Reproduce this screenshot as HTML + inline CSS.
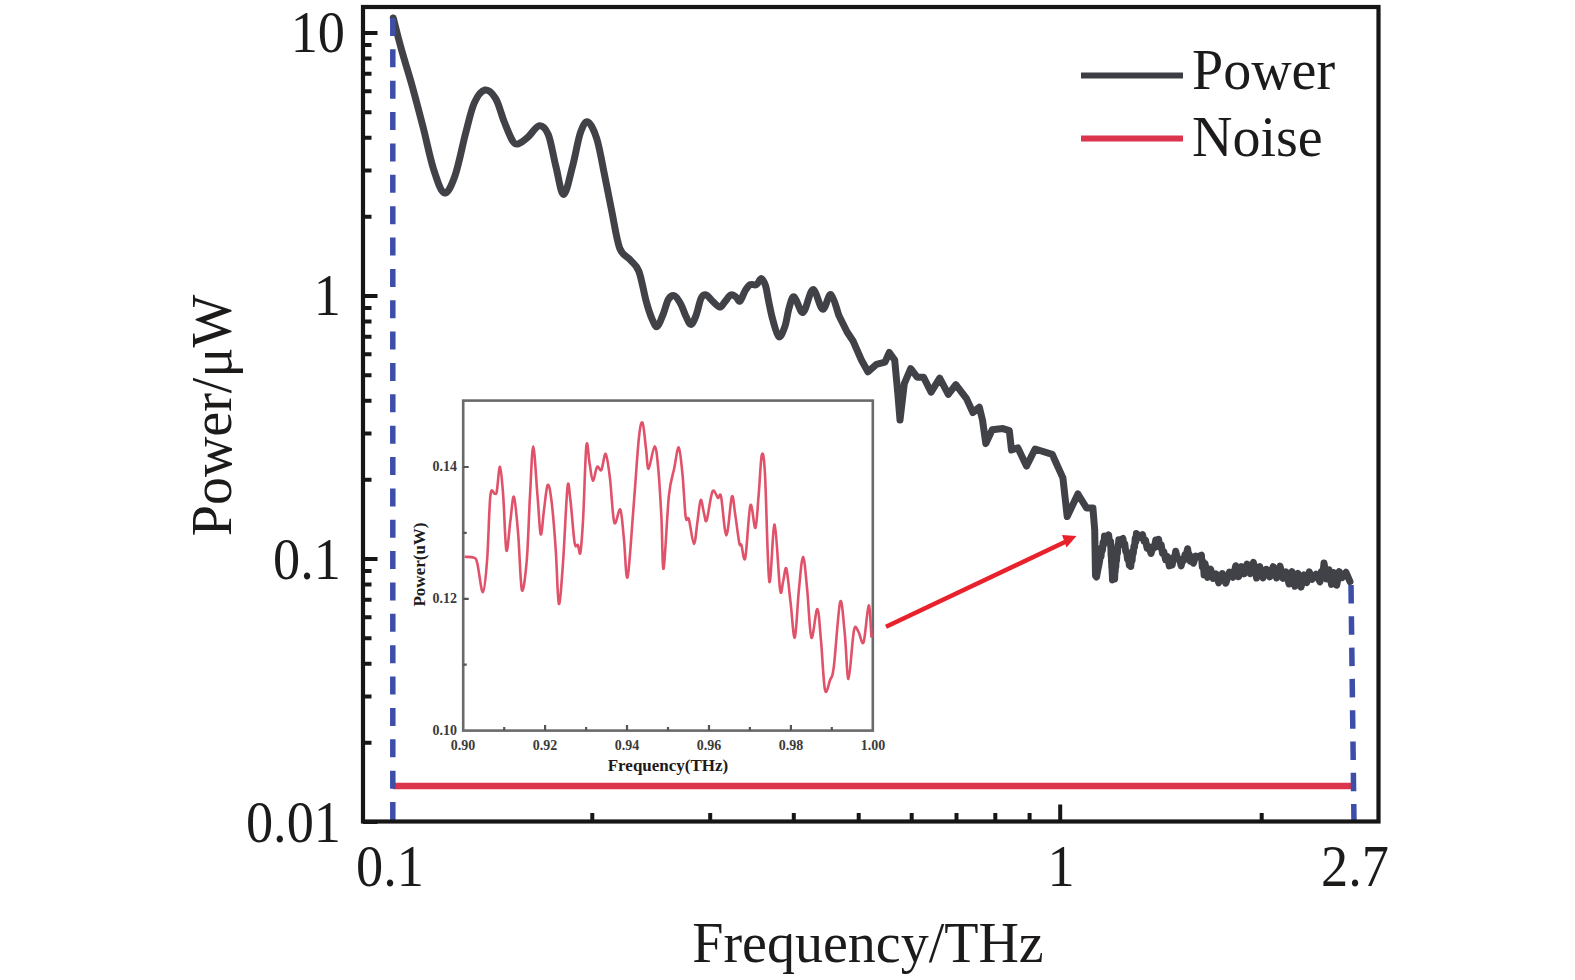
<!DOCTYPE html>
<html><head><meta charset="utf-8"><style>
html,body{margin:0;padding:0;background:#fff;width:1575px;height:980px;overflow:hidden}
svg{display:block}
text{font-family:"Liberation Serif",serif}
svg{fill:#1d1a1a}
</style></head><body>
<svg width="1575" height="980" viewBox="0 0 1575 980">
<rect width="1575" height="980" fill="#fff"/>
<!-- inset -->
<rect x="463.2" y="400.6" width="409.6" height="330.0" fill="none" stroke="#6a6a6a" stroke-width="2.6"/>
<path d="M504.2 730.6V727.1M545.1 730.6V725.1M586.1 730.6V727.1M627.0 730.6V725.1M668.0 730.6V727.1M709.0 730.6V725.1M749.9 730.6V727.1M790.9 730.6V725.1M831.8 730.6V727.1M463.2 664.7H466.7M463.2 598.8H468.7M463.2 532.9H466.7M463.2 467.0H468.7" stroke="#555" stroke-width="2.2" fill="none"/>
<path d="M464.6 556.8 C466.2 557.0 472.2 556.5 474.3 557.8 C476.4 559.0 476.1 558.6 477.5 564.3 C478.9 570.0 481.3 592.8 482.9 592.1 C484.5 591.4 485.9 576.1 487.1 560.0 C488.4 543.9 489.1 506.8 490.4 495.7 C491.6 484.6 493.5 494.3 494.6 493.6 C495.7 492.9 495.9 495.9 496.8 491.4 C497.7 486.9 498.9 466.1 500.0 466.8 C501.1 467.5 502.1 481.8 503.2 495.7 C504.3 509.6 505.2 546.1 506.4 550.4 C507.6 554.7 509.1 530.3 510.3 521.4 C511.6 512.5 512.6 494.7 513.9 496.8 C515.2 498.9 516.9 518.8 518.2 534.3 C519.5 549.8 520.5 585.7 521.9 590.0 C523.3 594.3 525.4 575.7 526.8 560.0 C528.1 544.3 528.9 514.6 530.0 495.7 C531.1 476.8 532.0 446.4 533.2 446.4 C534.5 446.4 536.2 481.1 537.5 495.7 C538.8 510.3 539.6 531.8 540.7 534.3 C541.8 536.8 542.8 518.9 543.9 510.7 C545.0 502.5 546.4 486.8 547.6 485.0 C548.9 483.2 550.0 489.3 551.4 500.0 C552.8 510.7 554.5 532.0 555.7 549.3 C557.0 566.6 557.6 602.1 558.9 603.9 C560.1 605.7 561.8 579.5 563.2 560.0 C564.6 540.5 566.3 497.1 567.5 487.1 C568.7 477.1 569.2 490.7 570.4 500.0 C571.6 509.3 573.4 535.4 574.6 542.9 C575.9 550.4 576.9 543.4 577.9 545.0 C578.9 546.6 579.5 557.1 580.4 552.5 C581.3 547.9 582.2 535.0 583.2 517.1 C584.2 499.2 585.3 454.3 586.4 445.4 C587.5 436.5 588.5 457.7 589.6 463.6 C590.7 469.5 591.6 480.2 592.9 480.7 C594.1 481.2 595.7 468.6 597.1 466.8 C598.5 465.0 600.0 472.1 601.4 470.0 C602.8 467.9 604.3 452.5 605.7 453.9 C607.1 455.3 608.6 467.2 610.0 478.6 C611.4 490.0 612.6 517.3 614.3 522.5 C616.0 527.7 618.7 506.9 620.3 509.6 C621.9 512.3 622.7 527.4 623.9 538.6 C625.1 549.9 626.0 582.5 627.6 577.1 C629.2 571.7 631.7 529.6 633.6 506.4 C635.5 483.2 637.4 451.8 638.9 437.9 C640.4 424.0 641.4 421.1 642.6 422.9 C643.8 424.7 645.0 440.9 646.0 448.6 C647.0 456.3 647.2 469.3 648.6 468.9 C650.0 468.5 653.0 446.6 654.6 446.4 C656.2 446.2 657.1 456.1 658.2 467.9 C659.3 479.7 660.5 500.3 661.4 517.1 C662.3 533.9 662.4 572.2 663.6 568.6 C664.9 565.0 667.1 512.5 668.9 495.7 C670.7 478.9 672.7 475.9 674.3 467.9 C675.9 459.9 677.4 446.4 678.8 447.5 C680.1 448.6 681.3 462.7 682.5 474.3 C683.7 485.9 684.6 509.6 685.7 517.1 C686.8 524.6 687.5 514.8 688.9 519.3 C690.3 523.8 692.5 543.5 693.9 543.9 C695.3 544.2 696.4 528.7 697.5 521.4 C698.6 514.1 699.6 501.4 700.7 500.0 C701.8 498.6 702.9 509.5 703.9 512.9 C704.9 516.3 705.3 523.9 706.7 520.3 C708.1 516.7 710.6 495.1 712.5 491.4 C714.4 487.7 716.5 497.0 717.9 497.9 C719.3 498.8 719.7 490.6 721.1 496.8 C722.5 503.1 724.6 535.4 726.4 535.4 C728.2 535.4 730.4 500.6 731.8 496.8 C733.2 493.1 733.8 505.2 735.0 512.9 C736.2 520.6 738.2 537.5 739.3 542.9 C740.4 548.2 740.4 542.5 741.4 545.0 C742.4 547.5 743.8 564.5 745.3 557.9 C746.8 551.3 748.7 510.4 750.4 505.4 C752.1 500.4 754.0 529.5 755.4 527.9 C756.8 526.3 757.5 507.8 758.6 495.7 C759.7 483.6 760.7 458.6 761.8 455.0 C762.9 451.4 763.8 453.2 765.0 474.3 C766.2 495.4 767.7 573.0 769.3 581.4 C770.9 589.8 772.8 523.2 774.6 524.6 C776.4 526.0 778.7 580.5 780.1 589.8 C781.5 599.1 782.2 584.1 783.3 580.6 C784.3 577.1 785.2 565.0 786.4 568.7 C787.6 572.4 789.2 591.2 790.6 602.7 C792.0 614.2 793.4 639.8 794.8 637.6 C796.2 635.5 797.5 603.3 798.9 589.8 C800.3 576.3 801.7 556.8 803.1 556.8 C804.5 556.8 805.8 576.3 807.2 589.8 C808.6 603.3 809.7 634.4 811.4 637.6 C813.1 640.8 815.7 608.8 817.3 609.1 C818.9 609.4 819.6 625.9 820.9 639.4 C822.2 652.9 823.5 683.2 825.0 690.0 C826.5 696.8 828.6 683.7 830.1 679.9 C831.6 676.1 832.1 680.0 833.8 667.0 C835.5 654.0 838.4 607.3 840.2 601.8 C842.0 596.3 843.4 621.0 844.8 633.9 C846.2 646.8 847.0 679.6 848.5 679.0 C850.0 678.4 852.3 638.1 854.0 630.3 C855.7 622.5 857.0 630.1 858.6 632.1 C860.2 634.1 861.9 646.7 863.6 642.2 C865.3 637.8 867.4 606.2 868.7 605.4 C870.0 604.6 871.0 632.2 871.5 637.6" stroke="#e0526a" stroke-width="2.6" fill="none" stroke-linejoin="round"/>
<g style="font-weight:bold;font-size:14px;fill:#3a3a3a">
<text x="457" y="471" text-anchor="end">0.14</text>
<text x="457" y="603" text-anchor="end">0.12</text>
<text x="457" y="735" text-anchor="end">0.10</text>
<text x="463" y="750" text-anchor="middle">0.90</text>
<text x="545" y="750" text-anchor="middle">0.92</text>
<text x="627" y="750" text-anchor="middle">0.94</text>
<text x="709" y="750" text-anchor="middle">0.96</text>
<text x="791" y="750" text-anchor="middle">0.98</text>
<text x="873" y="750" text-anchor="middle">1.00</text>
</g>
<text x="668" y="771" text-anchor="middle" style="font-weight:bold;font-size:17px">Frequency(THz)</text>
<text transform="translate(424.8 564.5) rotate(-90)" text-anchor="middle" style="font-weight:bold;font-size:17px">Power(uW)</text>
<!-- arrow -->
<path d="M886 626.8L1066 541.5" stroke="#e8212b" stroke-width="4.4" fill="none"/>
<path d="M1062 535L1076.5 536L1066.5 547.5Z" fill="#e8212b"/>
<!-- noise -->
<path d="M393 786H1352" stroke="#dc344c" stroke-width="6.5"/>
<!-- main curve -->
<path d="M393.3 18.0 C394.6 23.2 398.3 38.0 401.4 49.3 C404.5 60.6 408.5 72.8 412.1 85.7 C415.7 98.6 419.3 112.5 422.9 126.4 C426.5 140.3 430.0 158.2 433.6 169.3 C437.2 180.4 440.7 191.8 444.3 192.9 C447.9 194.0 451.4 185.7 455.0 175.7 C458.6 165.7 462.5 145.0 465.7 132.9 C468.9 120.8 471.1 110.1 474.3 102.9 C477.5 95.8 481.4 90.7 485.0 90.0 C488.6 89.3 492.5 93.3 495.7 98.6 C498.9 103.9 501.4 114.9 504.3 122.0 C507.2 129.1 510.5 137.8 512.9 141.4 C515.3 145.0 516.4 144.3 518.9 143.6 C521.4 142.9 524.5 140.2 527.9 137.2 C531.3 134.2 535.9 126.1 539.3 125.7 C542.7 125.3 545.5 127.8 548.3 134.6 C551.1 141.4 553.3 156.5 555.9 166.5 C558.5 176.5 560.8 194.6 563.6 194.6 C566.4 194.6 569.7 176.7 572.5 166.5 C575.3 156.3 577.7 140.8 580.2 133.4 C582.8 126.0 585.0 121.1 587.8 121.9 C590.5 122.8 593.9 129.8 596.7 138.5 C599.5 147.2 601.9 161.9 604.4 174.2 C606.9 186.5 609.5 200.1 612.0 212.4 C614.5 224.7 616.7 240.3 619.7 248.2 C622.7 256.1 626.7 255.8 629.9 259.6 C633.1 263.4 636.1 264.2 638.8 271.1 C641.5 278.0 643.9 292.9 646.1 301.0 C648.3 309.1 650.3 315.1 652.2 319.4 C654.1 323.6 655.4 327.5 657.3 326.5 C659.2 325.5 661.6 317.9 663.5 313.3 C665.4 308.7 666.7 301.9 668.6 299.0 C670.5 296.1 672.7 295.0 674.7 295.9 C676.7 296.8 678.9 300.7 680.8 304.1 C682.7 307.5 684.2 312.9 685.9 316.3 C687.6 319.7 689.3 324.7 691.0 324.5 C692.7 324.3 694.4 319.7 696.1 315.3 C697.8 310.9 699.5 301.4 701.2 298.0 C702.9 294.6 704.6 294.6 706.3 294.9 C708.0 295.2 709.2 298.0 711.4 300.0 C713.6 302.0 717.4 306.8 719.6 307.1 C721.8 307.4 722.8 304.0 724.7 302.0 C726.6 300.0 728.9 295.8 730.8 294.9 C732.7 294.0 734.4 295.9 735.9 296.9 C737.4 297.9 738.5 302.0 740.0 301.0 C741.5 300.0 743.4 293.5 745.1 290.8 C746.8 288.1 748.3 285.7 750.2 284.7 C752.1 283.7 754.4 285.7 756.3 284.7 C758.2 283.7 759.9 278.4 761.4 278.6 C762.9 278.8 764.3 282.0 765.5 285.7 C766.7 289.4 767.4 295.4 768.6 301.0 C769.8 306.6 771.0 313.4 772.7 319.4 C774.4 325.3 776.8 335.5 778.8 336.7 C780.8 337.9 783.2 331.2 784.9 326.5 C786.6 321.8 787.5 313.1 789.0 308.2 C790.5 303.3 791.8 296.2 794.1 296.9 C796.5 297.6 800.0 313.6 803.1 312.4 C806.2 311.2 809.6 290.1 812.9 289.6 C816.2 289.1 819.7 308.4 822.7 309.2 C825.7 310.0 828.1 293.4 830.8 294.5 C833.5 295.6 837.6 312.2 839.0 315.7 L847.1 332.0 L852.9 340.7 L861.4 360.0 L867.9 371.8 L876.4 364.3 L885.0 362.2 L889.3 352.5 L894.7 360.0 L897.9 394.3 L900.0 420.0 L904.3 383.6 L910.7 368.6 L917.2 377.2 L923.6 377.2 L931.1 392.2 L939.7 378.2 L948.3 394.3 L955.8 384.7 L966.5 398.6 L972.9 412.5 L979.3 407.2 L982.5 420.0 L985.8 443.6 L992.2 429.7 L1002.9 428.6 L1009.3 430.7 L1011.5 450.0 L1017.9 447.9 L1026.5 466.1 L1035.1 449.0 L1052.2 454.3 L1062.9 477.9 L1067.2 516.5 L1077.9 494.0 L1086.5 507.9 L1092.9 507.9 L1094.7 530.0 L1095.5 575.6 L1096.5 577.0 L1097.1 573.8 L1097.7 570.6 L1098.4 567.3 L1099.0 564.1 L1099.6 560.9 L1100.3 555.0 L1101.0 556.7 L1101.7 547.7 L1102.4 550.5 L1103.1 542.4 L1103.8 544.4 L1104.5 536.1 L1107.6 537.3 L1108.6 535.0 L1109.6 542.4 L1110.6 541.4 L1110.8 548.0 L1110.9 547.0 L1111.1 555.7 L1111.3 553.2 L1111.5 562.0 L1111.6 559.8 L1111.8 567.6 L1112.0 565.2 L1112.2 573.3 L1112.3 571.5 L1112.5 579.9 L1114.3 576.6 L1114.6 579.1 L1114.9 570.9 L1115.2 571.8 L1115.5 564.4 L1115.8 566.8 L1116.1 557.4 L1116.5 560.8 L1117.0 552.7 L1117.4 553.5 L1117.9 545.5 L1118.3 546.4 L1118.8 539.7 L1119.2 540.4 L1122.9 538.5 L1123.8 544.7 L1124.8 543.8 L1125.7 551.6 L1126.6 551.7 L1127.5 559.0 L1128.4 557.0 L1129.3 565.0 L1130.2 564.8 L1130.8 566.4 L1131.4 557.6 L1132.1 560.9 L1132.7 551.5 L1133.3 553.5 L1133.9 546.4 L1134.5 547.3 L1135.2 538.6 L1135.8 541.9 L1136.4 533.5 L1139.5 537.4 L1142.5 534.6 L1144.0 541.2 L1145.5 540.2 L1147.1 548.1 L1148.6 546.8 L1151.1 553.5 L1152.6 546.9 L1154.2 547.9 L1155.8 540.0 L1157.3 542.7 L1158.6 539.3 L1159.9 547.2 L1161.2 544.9 L1162.5 553.1 L1163.8 551.8 L1165.6 559.6 L1167.4 556.5 L1169.3 565.9 L1171.1 562.9 L1172.2 565.0 L1173.4 557.8 L1174.5 558.4 L1175.7 551.3 L1177.5 558.7 L1179.4 559.4 L1181.2 565.8 L1182.5 559.7 L1183.8 560.6 L1185.0 554.5 L1186.3 554.3 L1187.6 548.7 L1188.5 555.0 L1189.4 554.7 L1190.4 561.3 L1191.3 560.0 L1193.5 563.1 L1195.6 556.1 L1197.8 556.7 L1201.4 555.2 L1202.3 566.8 L1203.2 562.0 L1204.1 574.9 L1205.0 563.5 L1207.7 577.4 L1210.5 569.0 L1213.2 578.5 L1216.0 573.9 L1218.7 582.8 L1222.3 573.6 L1225.8 583.2 L1229.4 572.1 L1233.0 577.2 L1235.8 565.7 L1238.6 576.7 L1241.4 566.7 L1244.2 573.8 L1247.0 564.2 L1250.2 573.6 L1253.4 562.4 L1256.6 578.0 L1259.8 566.6 L1263.0 577.9 L1266.4 569.3 L1269.8 576.8 L1273.2 566.7 L1276.6 578.0 L1280.0 566.1 L1283.0 578.4 L1286.0 572.0 L1289.0 584.0 L1292.0 571.6 L1295.0 586.3 L1298.0 573.4 L1301.0 587.1 L1304.0 574.8 L1306.7 582.7 L1309.3 571.9 L1312.0 579.4 L1316.0 574.2 L1320.0 581.8 L1321.3 571.7 L1322.7 576.2 L1324.0 563.0 L1326.5 579.0 L1329.0 569.7 L1331.5 584.4 L1334.0 572.6 L1336.7 585.3 L1339.3 571.6 L1342.0 577.7 L1346.0 572.3 L1350.0 581.6" stroke="#404248" stroke-width="7" fill="none" stroke-linejoin="round" stroke-linecap="round"/>
<!-- dashed -->
<path d="M392.8 18V822" stroke="#3d4ea8" stroke-width="5.5" stroke-dasharray="18 13.36"/>
<path d="M1351 585L1354 823" stroke="#3d4ea8" stroke-width="5.5" stroke-dasharray="18.5 12.8"/>
<!-- frame -->
<rect x="363" y="7" width="1015.5" height="814.5" fill="none" stroke="#161616" stroke-width="4.2"/>
<path d="M363 33.0H377.5M363 296.0H377.5M363 559.0H377.5M363 822.0H377.5M363 216.8H371.5M363 170.5H371.5M363 137.7H371.5M363 112.2H371.5M363 91.3H371.5M363 73.7H371.5M363 58.5H371.5M363 45.0H371.5M363 479.8H371.5M363 433.5H371.5M363 400.7H371.5M363 375.2H371.5M363 354.3H371.5M363 336.7H371.5M363 321.5H371.5M363 308.0H371.5M363 742.8H371.5M363 696.5H371.5M363 663.7H371.5M363 638.2H371.5M363 617.3H371.5M363 599.7H371.5M363 584.5H371.5M363 571.0H371.5M592.3 821.5V813.0M710.2 821.5V813.0M793.8 821.5V813.0M858.7 821.5V813.0M911.7 821.5V813.0M956.5 821.5V813.0M995.3 821.5V813.0M1029.6 821.5V813.0M1060.2 821.5V804.5M1261.7 821.5V813.0" stroke="#161616" stroke-width="4" fill="none"/>
<!-- legend -->
<path d="M1081 75.6H1183" stroke="#3c3e44" stroke-width="6"/>
<path d="M1081 138.6H1183" stroke="#dc344c" stroke-width="6"/>
<text transform="translate(1192.0 89.0) scale(1.000 1.000)" text-anchor="start" style="font-size:56px">Power</text>
<text transform="translate(1192.0 156.0) scale(1.000 1.000)" text-anchor="start" style="font-size:56px">Noise</text>
<text transform="translate(345.0 51.5) scale(0.970 1.040)" text-anchor="end" style="font-size:56px">10</text>
<text transform="translate(341.0 315.0) scale(0.970 1.040)" text-anchor="end" style="font-size:56px">1</text>
<text transform="translate(341.0 578.7) scale(0.970 1.040)" text-anchor="end" style="font-size:56px">0.1</text>
<text transform="translate(341.0 842.0) scale(0.970 1.040)" text-anchor="end" style="font-size:56px">0.01</text>
<text transform="translate(390.0 886.0) scale(0.970 1.040)" text-anchor="middle" style="font-size:56px">0.1</text>
<text transform="translate(1061.0 886.0) scale(0.970 1.040)" text-anchor="middle" style="font-size:56px">1</text>
<text transform="translate(1355.0 886.0) scale(0.970 1.040)" text-anchor="middle" style="font-size:56px">2.7</text>
<text transform="translate(868.0 962.0) scale(1.000 1.000)" text-anchor="middle" style="font-size:56px">Frequency/THz</text>
<text transform="translate(231.4 415.5) rotate(-90)" text-anchor="middle" style="font-size:56px">Power/μW</text>
</svg>
</body></html>
